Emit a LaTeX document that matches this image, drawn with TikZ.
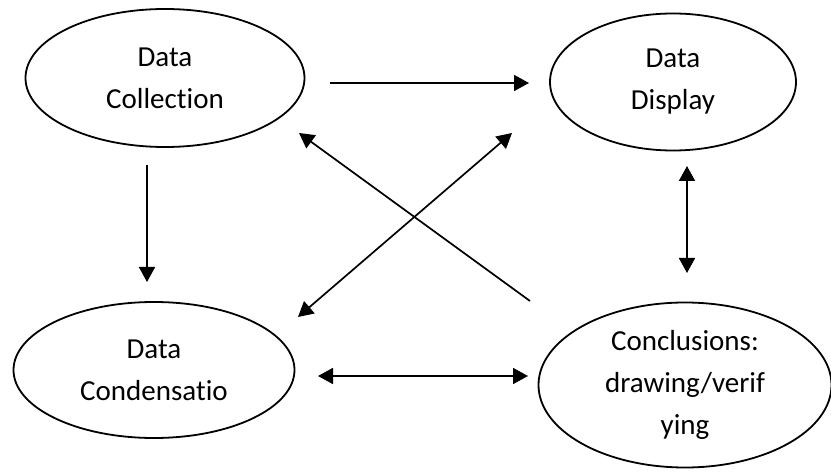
\documentclass[tikz,border=0pt]{standalone}
\usepackage{fontspec}
\setmainfont[Ligatures=NoCommon]{Carlito}
\usetikzlibrary{shapes.geometric,arrows.meta}
\begin{document}
\begin{tikzpicture}[x=1pt,y=-1pt,
  oval/.style={draw=black,line width=1.8pt,ellipse,inner sep=0pt,align=center,
    font=\fontsize{29}{42}\selectfont},
  conn/.style={line width=1.7pt,draw=black},
  tip/.tip={Triangle[length=15pt,width=16pt]}]
\useasboundingbox (0,0) rectangle (831,476);
\fill[white] (0,0) rectangle (831,476);
\node[oval,minimum width=279pt,minimum height=138pt] (col) at (165,78) {Data\\Collection};
\node[oval,minimum width=246pt,minimum height=137pt] (dis) at (673,82) {Data\\Display};
\node[oval,minimum width=281pt,minimum height=136pt] (con) at (154,370) {Data\\Condensatio};
\node[oval,minimum width=293pt,minimum height=165pt] (clu) at (685,385) {Conclusions:\\drawing/verif\\ying};
% connector end points
\coordinate (colE) at (330,83);
\coordinate (disW) at (529,83);
\coordinate (colS) at (147,165);
\coordinate (conN) at (147,282);
\coordinate (conE) at (318,376);
\coordinate (cluW) at (528,376);
\coordinate (disS) at (687,166);
\coordinate (cluN) at (687,273);
\coordinate (cluNW) at (530,301);
\coordinate (colSE) at (299,133);
\coordinate (disSW) at (512,133);
\coordinate (conNE) at (298,317);
\draw[conn,-{tip}] (colE) -- (disW);
\draw[conn,-{tip}] (colS) -- (conN);
\draw[conn,{tip}-{tip}] (conE) -- (cluW);
\draw[conn,{tip}-{tip}] (disS) -- (cluN);
\draw[conn,-{tip}] (cluNW) -- (colSE);
\draw[conn,{tip}-{tip}] (conNE) -- (disSW);
\end{tikzpicture}
\end{document}
